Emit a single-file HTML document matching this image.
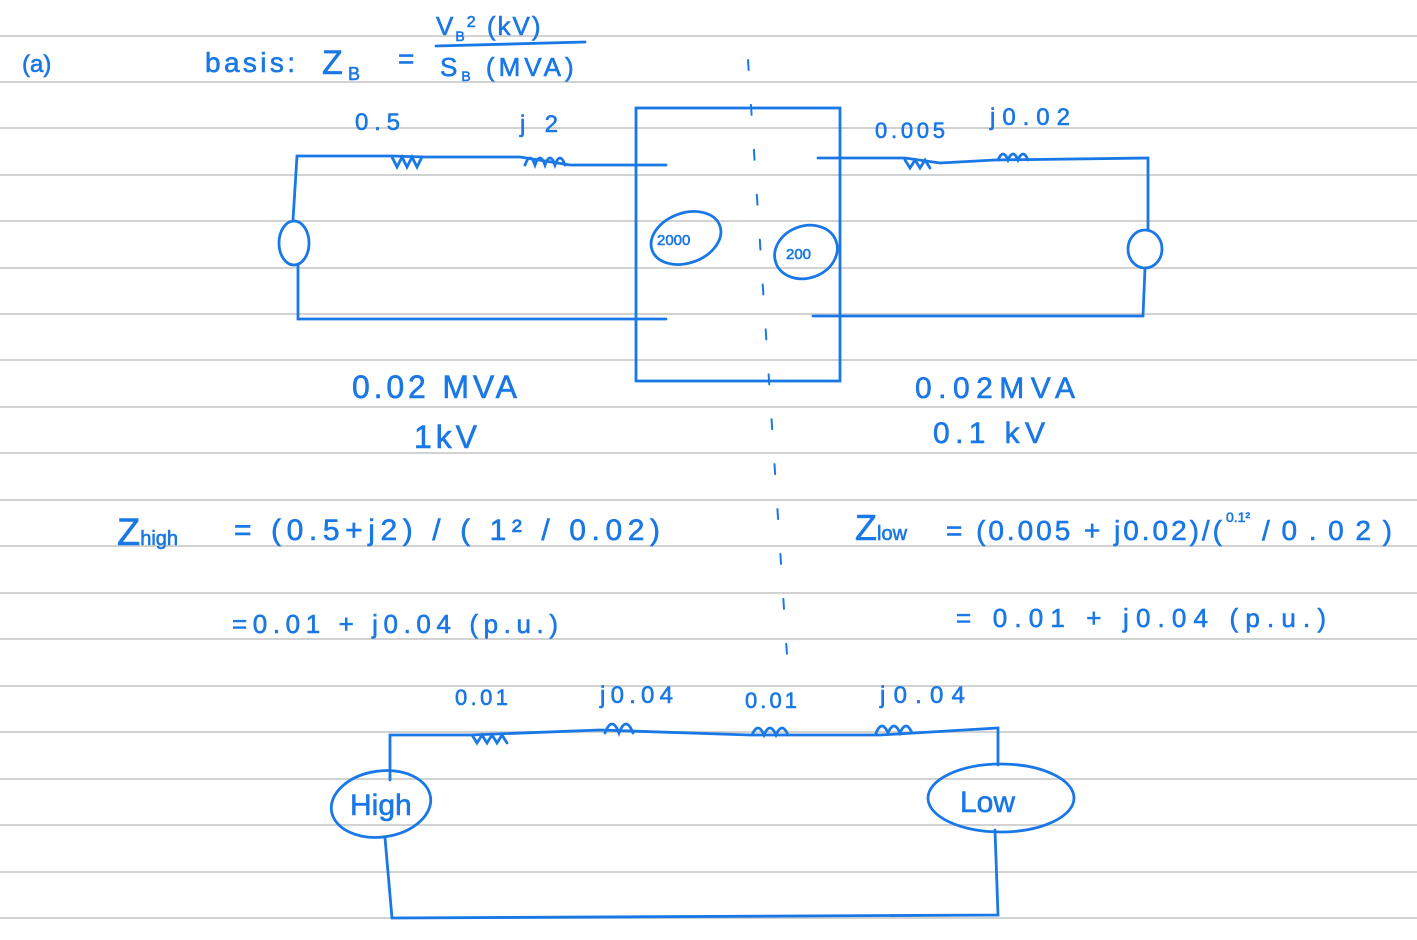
<!DOCTYPE html>
<html><head><meta charset="utf-8"><style>
html,body{margin:0;padding:0;background:#fff;width:1417px;height:940px;overflow:hidden}
svg{display:block}
text{font-family:"Liberation Sans",sans-serif;fill:#1a78e6;stroke:#1a78e6;stroke-width:0.6}
</style></head><body>
<svg width="1417" height="940" viewBox="0 0 1417 940">
<g stroke="#d2d2d2" stroke-width="2">
<line x1="0" y1="36" x2="1417" y2="36"/><line x1="0" y1="82" x2="1417" y2="82"/><line x1="0" y1="128" x2="1417" y2="128"/><line x1="0" y1="175" x2="1417" y2="175"/><line x1="0" y1="221" x2="1417" y2="221"/><line x1="0" y1="268" x2="1417" y2="268"/><line x1="0" y1="314" x2="1417" y2="314"/><line x1="0" y1="360" x2="1417" y2="360"/><line x1="0" y1="407" x2="1417" y2="407"/><line x1="0" y1="453" x2="1417" y2="453"/><line x1="0" y1="500" x2="1417" y2="500"/><line x1="0" y1="546" x2="1417" y2="546"/><line x1="0" y1="593" x2="1417" y2="593"/><line x1="0" y1="639" x2="1417" y2="639"/><line x1="0" y1="686" x2="1417" y2="686"/><line x1="0" y1="732" x2="1417" y2="732"/><line x1="0" y1="779" x2="1417" y2="779"/><line x1="0" y1="825" x2="1417" y2="825"/><line x1="0" y1="872" x2="1417" y2="872"/><line x1="0" y1="918" x2="1417" y2="918"/>
</g>
<g stroke="#1a78e6" stroke-width="2.8" fill="none" stroke-linecap="round">
<polyline points="666,165 570,165 520,157 425,157 392,156 297,156 293,220"/>
<path d="M392,157 l5,10 l5,-10 l5,10 l5,-10 l5,10 l5,-10"/>
<path d="M525,165 q5,-14 10,0 q5,-14 10,0 q5,-14 10,0 q5,-14 10,0"/>
<ellipse cx="294" cy="243" rx="15" ry="22"/>
<polyline points="298,266 298,319 666,319"/>
<rect x="636" y="108" width="204" height="273"/>
<ellipse cx="686" cy="238" rx="36" ry="25" transform="rotate(-20 686 238)"/>
<ellipse cx="806" cy="252" rx="32" ry="26" transform="rotate(-20 806 252)"/>
<polyline points="818,158 905,158 940,163 995,160 1148,158 1148,230"/>
<path d="M905,160 l5,8 l5,-8 l5,8 l5,-8 l5,8"/>
<path d="M998,160 q5,-12 10,0 q5,-12 10,0 q5,-12 10,0"/>
<ellipse cx="1145" cy="249" rx="17" ry="19"/>
<polyline points="1145,268 1143,316 813,316"/>
<path d="M748,60 L787,655" stroke-width="2" stroke-dasharray="10 35"/>
<polyline points="390,780 390,735 470,735 600,730 750,735 880,735 998,728 998,765"/>
<path d="M472,735 l5,8 l5,-8 l5,8 l5,-8 l5,8 l5,-8 l5,8"/>
<path d="M605,733 q7,-18 14,0 q7,-18 14,0"/>
<path d="M752,735 q6,-14 12,0 q6,-14 12,0 q6,-14 12,0"/>
<path d="M876,733 q6,-14 12,0 q6,-14 12,0 q6,-14 12,0"/>
<ellipse cx="381" cy="804" rx="50" ry="33" transform="rotate(-8 381 804)"/>
<ellipse cx="1001" cy="798" rx="73" ry="34"/>
<polyline points="385,838 392,918 998,915 995,830"/>
<path d="M436,46 L585,42"/>
</g>
<g font-size="28">
<text x="22" y="72" font-size="24">(a)</text>
<text x="205" y="72" textLength="90" lengthAdjust="spacing">basis:</text>
<text x="322" y="74" font-size="34">Z</text><text x="348" y="80" font-size="18">B</text>
<text x="398" y="68">=</text>
<text x="436" y="35" font-size="26" letter-spacing="2">V<tspan font-size="14" dy="6">B</tspan><tspan font-size="16" dy="-14">2</tspan><tspan dy="8"> (kV)</tspan></text>
<text x="440" y="76" font-size="26" letter-spacing="4">S<tspan font-size="14" dy="5">B</tspan><tspan dy="-5"> (MVA)</tspan></text>
<text x="355" y="130" font-size="24" textLength="45" lengthAdjust="spacing">0.5</text>
<text x="520" y="132" font-size="24" textLength="38" lengthAdjust="spacing">j2</text>
<text x="875" y="138" font-size="22" textLength="70" lengthAdjust="spacing">0.005</text>
<text x="990" y="125" font-size="24" textLength="80" lengthAdjust="spacing">j0.02</text>
<text x="657" y="245" font-size="15">2000</text>
<text x="786" y="259" font-size="15">200</text>
<text x="352" y="398" font-size="32" textLength="165" lengthAdjust="spacing">0.02 MVA</text>
<text x="414" y="448" font-size="32" textLength="63" lengthAdjust="spacing">1kV</text>
<text x="915" y="398" font-size="30" textLength="160" lengthAdjust="spacing">0.02MVA</text>
<text x="933" y="443" font-size="30" textLength="112" lengthAdjust="spacing">0.1 kV</text>
<text x="117" y="545" font-size="38">Z<tspan font-size="20">high</tspan></text>
<text x="234" y="540" font-size="30" textLength="426" lengthAdjust="spacing">= (0.5+j2) / ( 1² / 0.02)</text>
<text x="855" y="540" font-size="36">Z<tspan font-size="20">low</tspan></text>
<text x="946" y="540" font-size="28" textLength="276" lengthAdjust="spacing">= (0.005 + j0.02)/(</text>
<text x="1226" y="522" font-size="14">0.1²</text>
<text x="1262" y="540" font-size="28" textLength="130" lengthAdjust="spacing">/0.02)</text>
<text x="232" y="633" font-size="26" textLength="326" lengthAdjust="spacing">=0.01 + j0.04  (p.u.)</text>
<text x="956" y="627" font-size="26" textLength="370" lengthAdjust="spacing">=  0.01 + j0.04   (p.u.)</text>
<text x="455" y="705" font-size="22" textLength="53" lengthAdjust="spacing">0.01</text>
<text x="600" y="703" font-size="24" textLength="73" lengthAdjust="spacing">j0.04</text>
<text x="745" y="708" font-size="22" textLength="52" lengthAdjust="spacing">0.01</text>
<text x="880" y="703" font-size="24" textLength="85" lengthAdjust="spacing">j0.04</text>
<text x="350" y="815" font-size="30">High</text>
<text x="960" y="812" font-size="30">Low</text>
</g>
</svg>
</body></html>
